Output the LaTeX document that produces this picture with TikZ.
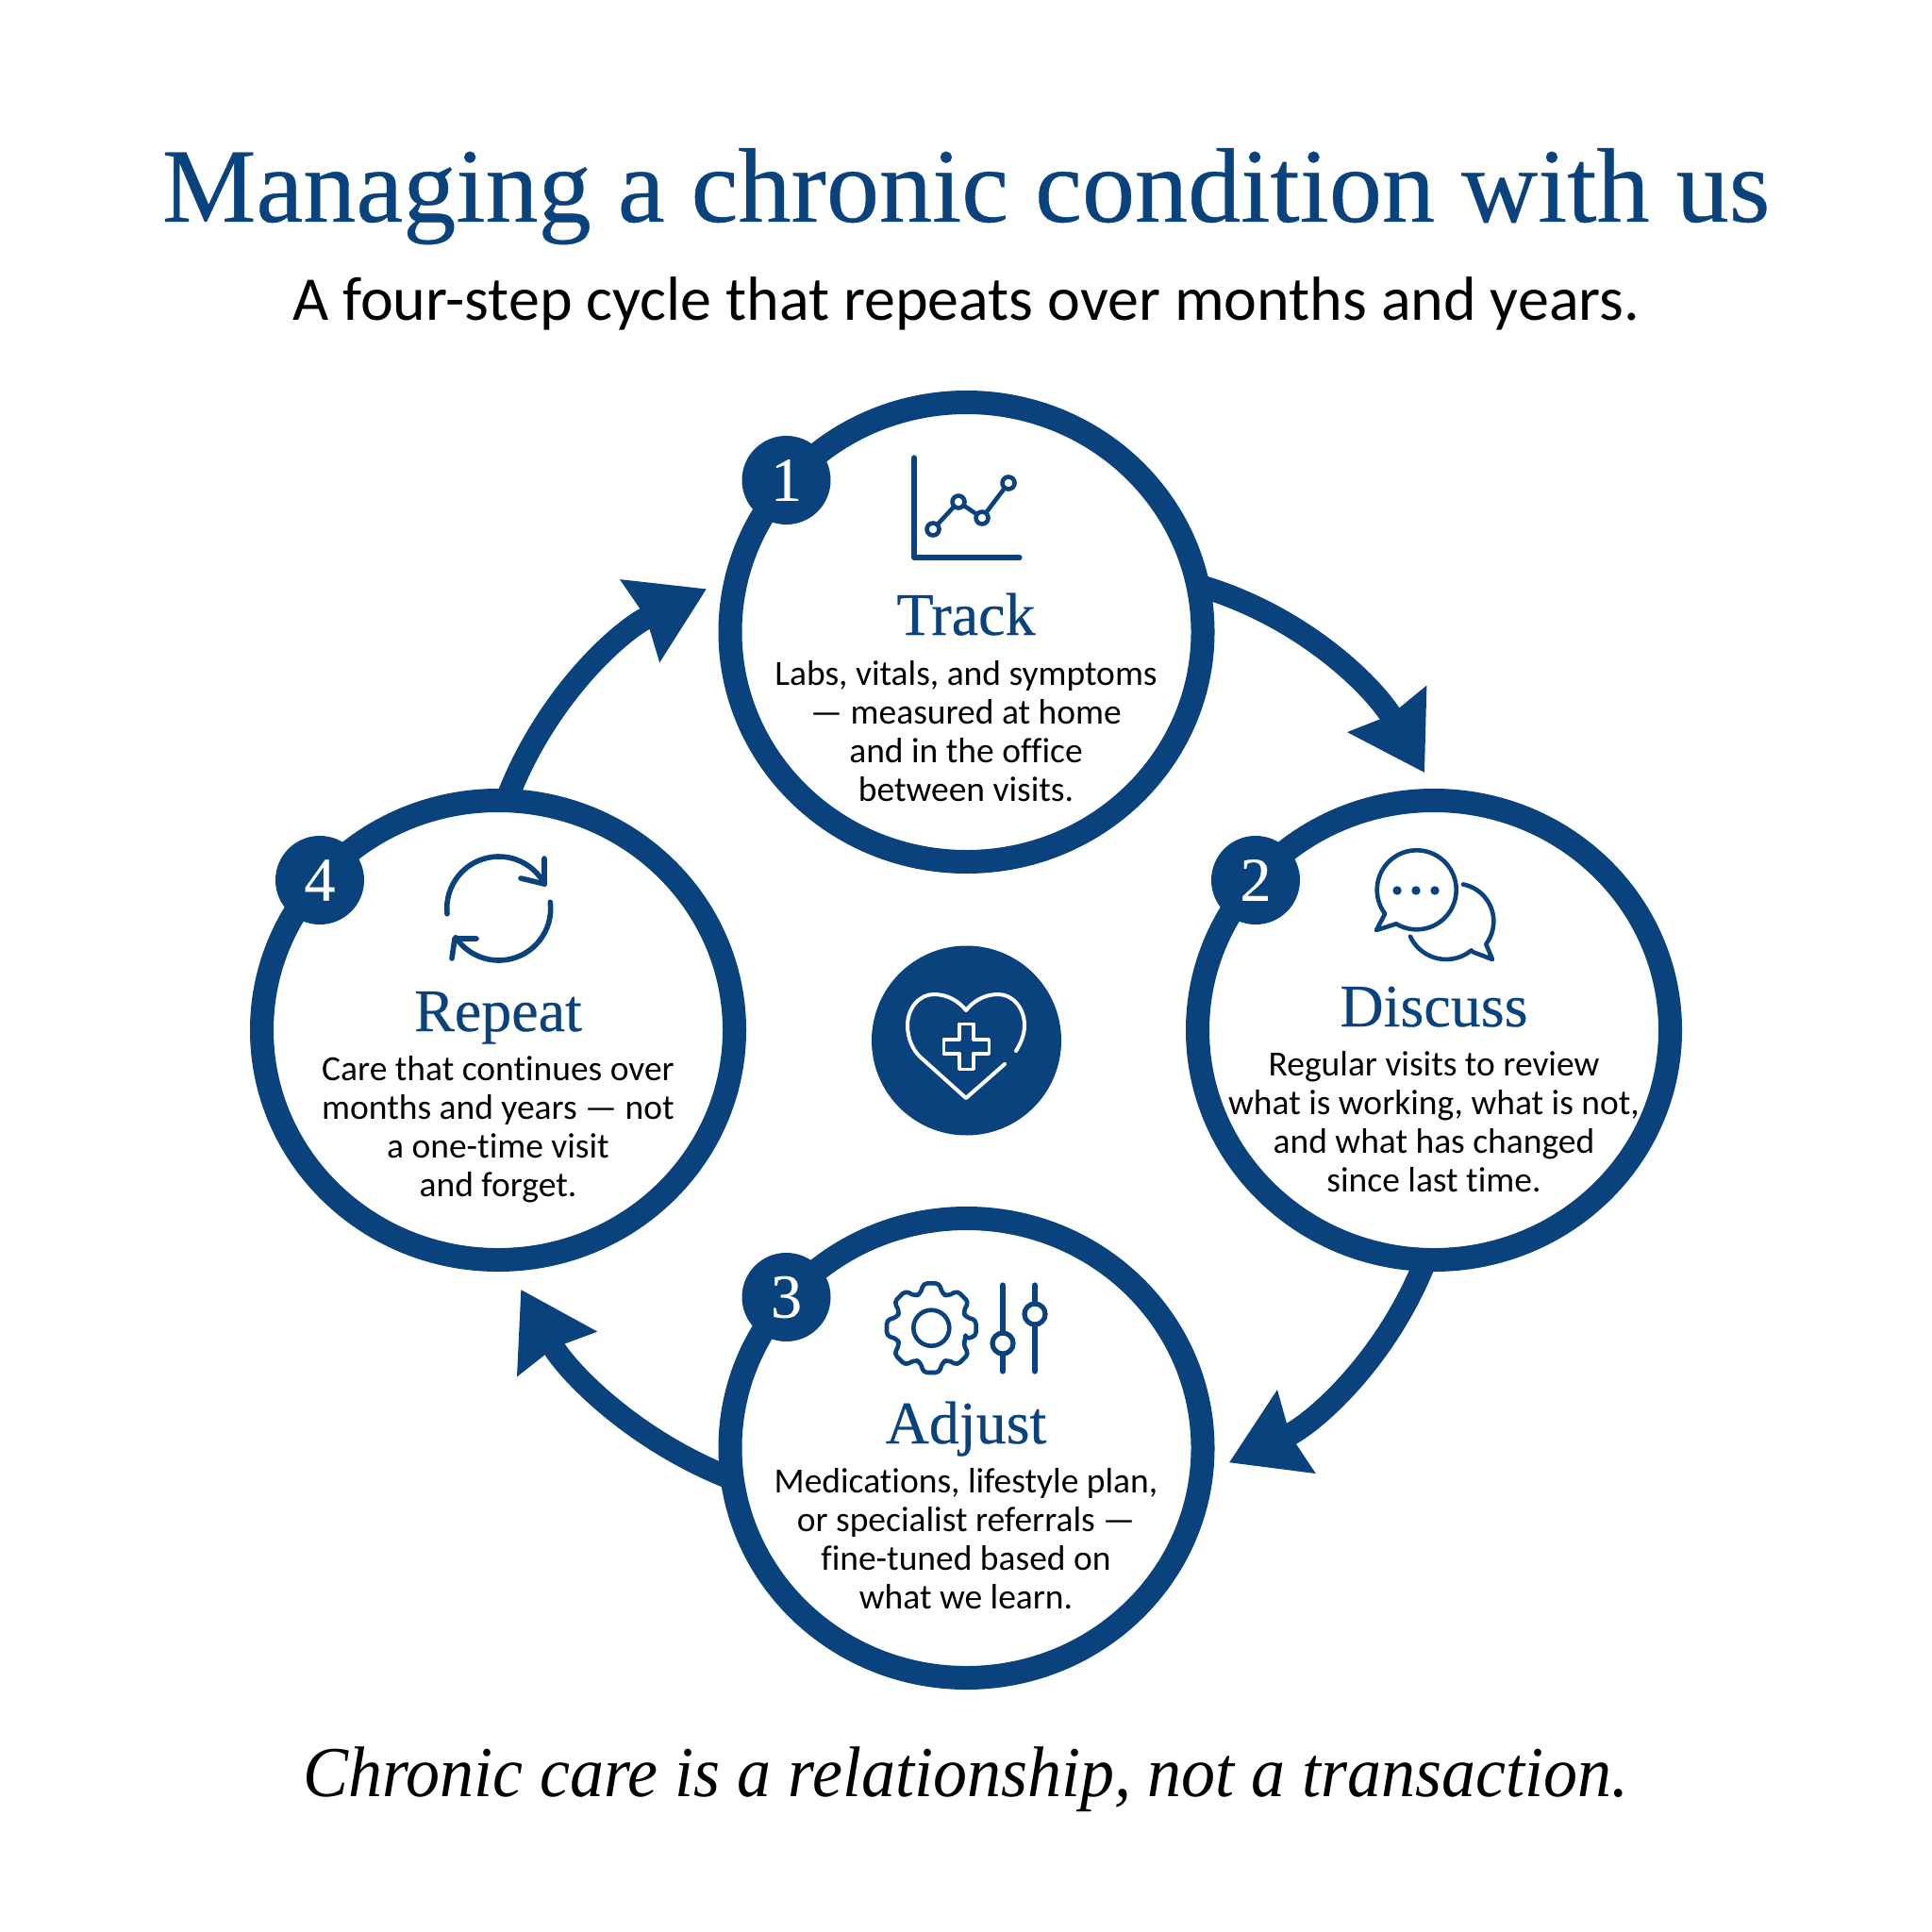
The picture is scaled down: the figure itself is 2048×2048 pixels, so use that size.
\documentclass[tikz,border=0pt]{standalone}
\usepackage{fontspec}
\setmainfont{Liberation Serif}
\newfontfamily\titlefont[FakeBold=0.35]{Liberation Serif}
\newfontfamily\tagfont[FakeStretch=0.947]{Liberation Serif Italic}
\newfontfamily\bodyfont[Ligatures=NoCommon]{Carlito}
\usetikzlibrary{arrows.meta,shapes.geometric}
\definecolor{navy}{HTML}{0A427E}
\tikzset{
  x=0.5pt,y=0.5pt,
  stage/.style={ellipse,draw=navy,line width=12.5pt,fill=white,minimum width=250.5pt,minimum height=243.5pt,inner sep=0pt,outer sep=6.25pt},
  badge/.style={circle,fill=navy,text=white,minimum size=47pt,inner sep=0pt,font=\titlefont\fontsize{33}{33}\selectfont},
  headline/.style={text=navy,anchor=base,inner sep=0pt,font=\titlefont\fontsize{32}{36}\selectfont},
  bodytext/.style={text=black,anchor=base,align=center,inner sep=0pt,font=\bodyfont\fontsize{18.75}{20.5}\selectfont},
  flow/.style={draw=navy,line width=12pt,-{Stealth[length=38.5pt,width=46.5pt,inset=3pt]},shorten <=-6pt},
  icon/.style={draw=navy,line width=2.3pt,line cap=round,line join=round},
  whiteicon/.style={draw=white,line width=2pt,line cap=round,line join=round},
}
\begin{document}
\begin{tikzpicture}
\useasboundingbox (0,0) rectangle (2048,-2048);
\fill[white] (0,0) rectangle (2048,-2048);
% titles
\node[anchor=base,inner sep=0pt,text=navy,font=\titlefont\fontsize{56.1}{60}\selectfont] (title) at (1024,-235) {Managing a chronic condition with us};
\node[anchor=base,inner sep=0pt,font=\bodyfont\fontsize{33}{36}\selectfont] (subtitle) at (1024,-340) {A four-step cycle that repeats over months and years.};
\node[anchor=base,inner sep=0pt,font=\tagfont\fontsize{38}{44}\selectfont] (tagline) at (1024,-1904) {Chronic care is a relationship, not a transaction.};
% stage rings
\node[stage] (track) at (1024.5,-670) {};
\node[stage] (discuss) at (1520,-1092) {};
\node[stage] (adjust) at (1024.5,-1535) {};
\node[stage] (repeat) at (528,-1092) {};
% connectors
\draw[flow,shorten >=9.75pt] (track.10.75) .. controls (1381,-653) and (1456.5,-728) .. (discuss.90.8);
\draw[flow,shorten >=9pt] (discuss.-93) .. controls (1469.7,-1441.3) and (1392.4,-1509.3) .. (adjust.-5.1);
\draw[flow,shorten >=11pt] (adjust.186.1) .. controls (671,-1526.3) and (600.7,-1453.4) .. (repeat.-87.3);
\draw[flow,shorten >=10.25pt] (repeat.87.2) .. controls (577.3,-741.5) and (654.8,-669.4) .. (track.168.9);
% badges
\node[badge] (b1) at (833.5,-509) {1};
\node[badge] (b2) at (1331,-933) {2};
\node[badge] (b3) at (833.5,-1375) {3};
\node[badge] (b4) at (339,-933) {4};
% centre
\node[circle,fill=navy,minimum size=100.5pt,inner sep=0pt] (hub) at (1024.5,-1103) {};
\draw[whiteicon] (1065,-1128) -- (1024,-1164) -- (975,-1120)
  .. controls (967,-1112) and (962,-1100) .. (962,-1087)
  .. controls (962,-1068) and (975,-1054) .. (990,-1054)
  .. controls (1005,-1054) and (1017,-1062) .. (1024,-1071)
  .. controls (1031,-1062) and (1043,-1054) .. (1058,-1054)
  .. controls (1073,-1054) and (1086,-1068) .. (1086,-1087)
  .. controls (1086,-1097) and (1082,-1106) .. (1077,-1114);
\begin{scope}[shift={(1024.3,-1109.3)}]
\draw[whiteicon,line width=1.8pt] (-7.5,24) -- (7.5,24) -- (7.5,7.5) -- (24,7.5) -- (24,-7.5) -- (7.5,-7.5) -- (7.5,-24) -- (-7.5,-24) -- (-7.5,-7.5) -- (-24,-7.5) -- (-24,7.5) -- (-7.5,7.5) -- cycle;
\end{scope}
% track icon
\draw[icon,line width=2.6pt] (969,-485) -- (969,-591) -- (1081,-591);
\draw[icon] (989,-561) -- (1016,-532) -- (1041,-549) -- (1069,-512);
\foreach \p in {(989,-561),(1016,-532),(1041,-549),(1069,-512)}
  \draw[icon,fill=white] \p circle[radius=6.5];
% discuss icon
\draw[icon] (1501.7,-943.3)+(239:42) arc[start angle=239,end angle=577,radius=42] -- (1459,-986) -- cycle;
\foreach \xx in {1481,1501,1521} \fill[navy] (\xx,-944) circle[radius=4.7];
\draw[icon] (1543.3,-976.7)+(79:40) arc[start angle=79,end angle=-37,radius=40] -- (1582,-1017) -- (1561,-1009);
\draw[icon] (1533,-975)+(-50.5:42) arc[start angle=-50.5,end angle=-155,radius=42];
% adjust icon
\begin{scope}[shift={(987.3,-1407.7)}]
\draw[icon,rounded corners=2pt] (-18:38)
  \foreach \a in {0,45,...,315} { -- (\a-18:38) -- (\a-10:48) -- (\a+10:48) -- (\a+18:38) } -- cycle;
\draw[icon] (0,0) circle[radius=19];
\end{scope}
\draw[icon,line width=2.6pt] (1063,-1362) -- (1063,-1454);
\draw[icon,line width=2.6pt] (1097,-1362) -- (1097,-1454);
\draw[icon,line width=2.6pt,fill=white] (1063,-1424) circle[radius=11];
\draw[icon,line width=2.6pt,fill=white] (1097,-1393) circle[radius=11];
% repeat icon
\draw[icon,line width=2.8pt] (528.7,-963)+(186:55) arc[start angle=186,end angle=28,radius=55];
\draw[icon,line width=2.8pt] (577,-910) -- (577,-937) -- (552,-931);
\draw[icon,line width=2.8pt] (528.7,-963)+(7:55) arc[start angle=7,end angle=-146,radius=55];
\draw[icon,line width=2.8pt] (505,-995) -- (482,-995) -- (479,-1016);
% labels
\node[headline] (tTrack) at (1024,-673) {Track};
\node[headline] (tDiscuss) at (1520,-1088) {Discuss};
\node[headline] (tAdjust) at (1024,-1530) {Adjust};
\node[headline] (tRepeat) at (528,-1093) {Repeat};
\node[bodytext] (dTrack) at (1024,-849) {Labs, vitals, and symptoms\\— measured at home\\and in the office\\between visits.};
\node[bodytext] (dDiscuss) at (1520,-1263) {Regular visits to review\\what is working, what is not,\\and what has changed\\since last time.};
\node[bodytext] (dAdjust) at (1024,-1705) {Medications, lifestyle plan,\\or specialist referrals —\\fine-tuned based on\\what we learn.};
\node[bodytext] (dRepeat) at (528,-1268) {Care that continues over\\months and years — not\\a one-time visit\\and forget.};
\end{tikzpicture}
\end{document}
